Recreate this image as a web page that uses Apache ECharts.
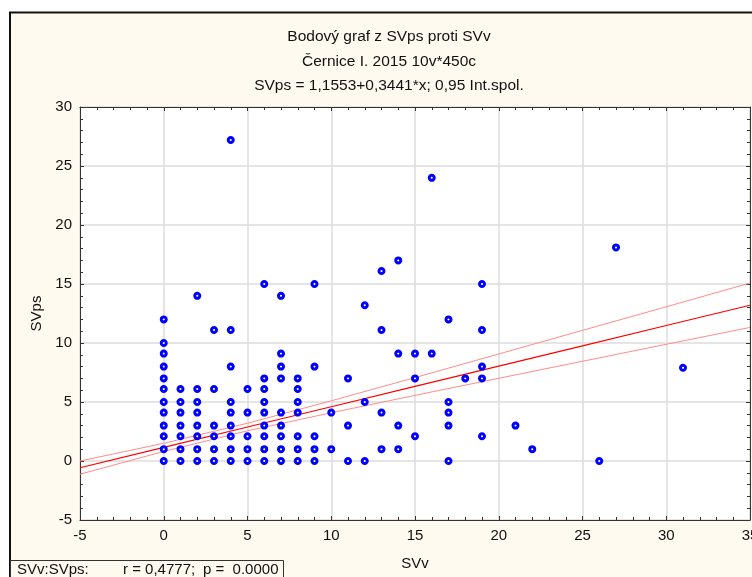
<!DOCTYPE html>
<html>
<head>
<meta charset="utf-8">
<script src="https://cdn.jsdelivr.net/npm/echarts@6/dist/echarts.min.js"></script>
<style>
  html, body { margin: 0; padding: 0; background: #fff; }
  #chart { width: 752px; height: 577px; }
</style>
</head>
<body>
<div id="chart"></div>
<script>
// SVv (x) -> list of SVps values (y)
const pointsByX = {
  0: [0, 1, 2.1, 3, 4.1, 5, 6.1, 7, 8, 9.1, 10, 12],
  1: [0, 1, 2.1, 3, 4.1, 5, 6.1],
  2: [0, 1, 2.1, 3, 4.1, 5, 6.1, 14],
  3: [0, 1, 2.1, 3, 6.1, 11.1],
  4: [0, 1, 2.1, 3, 4.1, 5, 8, 11.1, 27.2],
  5: [0, 1, 2.1, 4.1, 6.1],
  6: [0, 1, 2.1, 3, 4.1, 5, 6.1, 7, 15],
  7: [0, 1, 2.1, 3, 4.1, 7, 8, 9.1, 14],
  8: [0, 1, 2.1, 4.1, 5, 6.1, 7],
  9: [0, 1, 2.1, 8, 15],
  10: [1, 4.1],
  11: [0, 3, 7],
  12: [0, 5, 13.2],
  13: [1, 4.1, 11.1, 16.1],
  14: [1, 3, 9.1, 17],
  15: [2.1, 7, 9.1],
  16: [9.1, 24],
  17: [0, 3, 4.1, 5, 12],
  18: [7],
  19: [2.1, 7, 8, 11.1, 15],
  21: [3],
  22: [1],
  26: [0],
  27: [18.1],
  31: [7.9]
};

// regression line and 0.95 band, read at these x positions
const lineX = [-5, 0, 5, 10, 15, 20, 25, 30, 35];
const fitY = [-0.57, 1.16, 2.88, 4.6, 6.32, 8.04, 9.76, 11.48, 13.2];
const upperY = [0.0, 1.5, 3.2, 5.1, 7.07, 9.07, 11.07, 13.07, 15.08];
const lowerY = [-1.12, 0.81, 2.56, 4.09, 5.56, 7.01, 8.45, 9.89, 11.32];

const xTicks = { min: -5, max: 35, step: 5 };
const yTicks = { min: -5, max: 30, step: 5 };

const titleLines = [
  "Bodový graf z SVps proti SVv",
  "Černice I. 2015 10v*450c",
  "SVps = 1,1553+0,3441*x; 0,95 Int.spol."
];
const statParts = ["SVv:SVps:", "r = 0,4777;", "p =  0.0000"];

const font = "'Liberation Sans', Arial, sans-serif";

const scatterData = [];
Object.keys(pointsByX).forEach((x) => {
  pointsByX[x].forEach((y) => scatterData.push([Number(x), y]));
});
const pairs = (ys) => lineX.map((x, i) => [x, ys[i]]);

const chart = echarts.init(document.getElementById("chart"));

const tickAxis = (extra) => Object.assign({
  type: "value",
  axisLine: { show: true, onZero: false, lineStyle: { color: "#333", width: 1 } },
  axisTick: { show: true, inside: true, length: 4, lineStyle: { color: "#333" } },
  minorTick: { show: true, splitNumber: 5, length: 3, lineStyle: { color: "#333" } },
  splitLine: { show: false },
  axisLabel: { show: false }
}, extra);

const labelStyle = { show: true, color: "#111", fontSize: 15, margin: 8, fontFamily: font };
const nameStyle = { color: "#111", fontSize: 15, fontFamily: font };
const titleFont = "15.5px " + font;
const statFont = "15px " + font;

const option = {
  backgroundColor: "#fffaf0",
  animation: false,
  textStyle: { fontFamily: font },
  grid: {
    left: 80, right: 2, top: 107, bottom: 57,
    show: true, backgroundColor: "#ffffff", borderWidth: 0,
    containLabel: false, outerBoundsMode: "none"
  },
  xAxis: [
    tickAxis({
      position: "bottom",
      min: xTicks.min, max: xTicks.max, interval: xTicks.step,
      axisLabel: labelStyle,
      splitLine: { show: true, lineStyle: { color: "#dcdcdc", width: 1.5 } },
      name: "SVv", nameLocation: "middle", nameGap: 36,
      nameTextStyle: nameStyle
    }),
    tickAxis({ position: "top", min: xTicks.min, max: xTicks.max, interval: xTicks.step })
  ],
  yAxis: [
    tickAxis({
      position: "left",
      min: yTicks.min, max: yTicks.max, interval: yTicks.step,
      axisLabel: labelStyle,
      splitLine: { show: true, lineStyle: { color: "#dcdcdc", width: 1.5 } },
      name: "SVps", nameLocation: "middle", nameGap: 36, nameRotate: 90,
      nameTextStyle: nameStyle
    }),
    tickAxis({ position: "right", min: yTicks.min, max: yTicks.max, interval: yTicks.step })
  ],
  graphic: [
    { type: "rect", shape: { x: 0, y: 0, width: 752, height: 12 }, style: { fill: "#fff" }, silent: true },
    { type: "rect", shape: { x: 0, y: 0, width: 10, height: 577 }, style: { fill: "#fff" }, silent: true },
    { type: "polyline", shape: { points: [[10, 577], [10, 12.5], [752, 12.5]] }, style: { stroke: "#111", lineWidth: 2, fill: null }, silent: true },
    { type: "text", x: 389, y: 37, style: { text: titleLines[0], font: titleFont, fill: "#111", textAlign: "center", textVerticalAlign: "middle" } },
    { type: "text", x: 389, y: 61.5, style: { text: titleLines[1], font: titleFont, fill: "#111", textAlign: "center", textVerticalAlign: "middle" } },
    { type: "text", x: 389, y: 86, style: { text: titleLines[2], font: titleFont, fill: "#111", textAlign: "center", textVerticalAlign: "middle" } },
    { type: "rect", shape: { x: 10.5, y: 560.5, width: 273, height: 20 }, style: { fill: "#fffaf0", stroke: "#333", lineWidth: 1 } },
    { type: "text", x: 17, y: 570, style: { text: statParts[0], font: statFont, fill: "#111", textVerticalAlign: "middle" } },
    { type: "text", x: 123, y: 570, style: { text: statParts[1], font: statFont, fill: "#111", textVerticalAlign: "middle" } },
    { type: "text", x: 203, y: 570, style: { text: statParts[2], font: statFont, fill: "#111", textVerticalAlign: "middle" } }
  ],
  series: [
    {
      type: "line", data: pairs(upperY), showSymbol: false, silent: true, z: 2,
      lineStyle: { color: "#ff8c8c", width: 1 }
    },
    {
      type: "line", data: pairs(lowerY), showSymbol: false, silent: true, z: 2,
      lineStyle: { color: "#ff8c8c", width: 1 }
    },
    {
      type: "line", data: pairs(fitY), showSymbol: false, silent: true, z: 2,
      lineStyle: { color: "#ff0000", width: 1.2 }
    },
    {
      type: "scatter", data: scatterData, z: 3,
      symbol: "circle", symbolSize: 5,
      itemStyle: { color: "#ffffff", borderColor: "#0000ff", borderWidth: 3, opacity: 1 }
    }
  ]
};

chart.setOption(option);
</script>
</body>
</html>
